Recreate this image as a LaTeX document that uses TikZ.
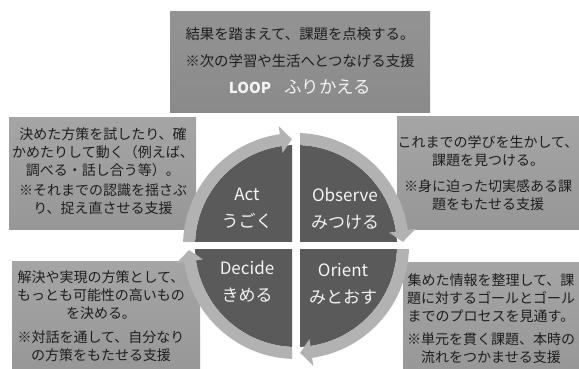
\documentclass[tikz,border=0pt]{standalone}
\usepackage{fontspec}
\setmainfont{Noto Sans CJK JP}
\usetikzlibrary{calc}
\definecolor{sidetop}{HTML}{A5A5A5}
\definecolor{sidebot}{HTML}{979797}
\definecolor{headtop}{HTML}{939393}
\definecolor{headbot}{HTML}{8A8A8A}
\definecolor{quadfill}{HTML}{5A5A5A}
\definecolor{ringfill}{HTML}{B2B2B2}
\definecolor{txt}{HTML}{1E1E1E}
\definecolor{lighttxt}{HTML}{F4F4F4}
\newcommand\ringarrow[2]{%
  \pgfmathsetmacro\ringback{#2+6}%
  \fill[ringfill] ($(C)+(#1:113pt)$) arc[start angle=#1, end angle=\ringback, radius=113pt]
    -- ($(C)+(\ringback:121pt)$) -- ($(C)+(#2:107pt)$) -- ($(C)+(\ringback:94pt)$)
    -- ($(C)+(\ringback:101pt)$) arc[start angle=\ringback, end angle=#1, radius=101pt] -- cycle;}
\begin{document}
\begin{tikzpicture}[x=1pt,y=1pt,
  sidebox/.style={top color=sidetop, bottom color=sidebot},
  headbox/.style={top color=headtop, bottom color=headbot},
  boxtext/.style={align=center, text=txt, inner sep=0pt, font=\fontsize{14}{18}\selectfont},
  quadtext/.style={align=center, text=lighttxt, inner sep=0pt, font=\fontsize{17}{27}\selectfont}]
\useasboundingbox (0,0) rectangle (579,369);
\coordinate (C) at (296,123);
% boxes
\path[headbox] (170,256) rectangle (430,357);
\path[sidebox] (9,139) rectangle (196,251);
\path[sidebox] (397,139) rectangle (582,252);
\path[sidebox] (12,-5) rectangle (200,107);
\path[sidebox] (403,-5) rectangle (582,106);
% texts
\node[boxtext, font=\fontsize{14.4}{27}\selectfont] (loop) at (300,308.5)
  {結果を踏まえて、課題を点検する。\\※次の学習や生活へとつなげる支援\\
   \textcolor{lighttxt}{{\fontsize{15}{27}\selectfont\bfseries LOOP}\hspace{0.9em}{\fontsize{17.5}{27}\selectfont ふりかえる}}};
\node[boxtext] (acttext) at (103,197.5)
  {決めた方策を試したり、確\\かめたりして動く（例えば、\\調べる・話し合う等）。\\[2pt]※それまでの認識を揺さぶ\\り、捉え直させる支援};
\node[boxtext] (obstext) at (488,196)
  {これまでの学びを生かして、\\課題を見つける。\\[8pt]※身に迫った切実感ある課\\題をもたせる支援};
\node[boxtext] (dectext) at (101,52.5)
  {解決や実現の方策として、\\もっとも可能性の高いもの\\を決める。\\[6pt]※対話を通して、自分なり\\の方策をもたせる支援};
\node[boxtext] (oritext) at (491,50)
  {集めた情報を整理して、課\\題に対するゴールとゴール\\までのプロセスを見通す。\\[5pt]※単元を貫く課題、本時の\\流れをつかませる支援};
% quadrants
\begin{scope}
  \clip (150,127) rectangle (292,260);
  \fill[quadfill] (C) circle[radius=101pt];
  \ringarrow{180}{92.2}
\end{scope}
\begin{scope}
  \clip (300,127) rectangle (440,260);
  \fill[quadfill] (C) circle[radius=101pt];
  \ringarrow{90}{2.2}
\end{scope}
\begin{scope}
  \clip (300,-20) rectangle (440,119);
  \fill[quadfill] (C) circle[radius=101pt];
  \ringarrow{0}{-87.8}
\end{scope}
\begin{scope}
  \clip (150,-20) rectangle (292,119);
  \fill[quadfill] (C) circle[radius=101pt];
  \ringarrow{-90}{-177.8}
\end{scope}
\node[quadtext] (act) at (247,160.5) {Act\\うごく};
\node[quadtext] (observe) at (345,160) {Observe\\みつける};
\node[quadtext] (decide) at (247,87) {Decide\\きめる};
\node[quadtext] (orient) at (343,85) {Orient\\みとおす};
\end{tikzpicture}
\end{document}
